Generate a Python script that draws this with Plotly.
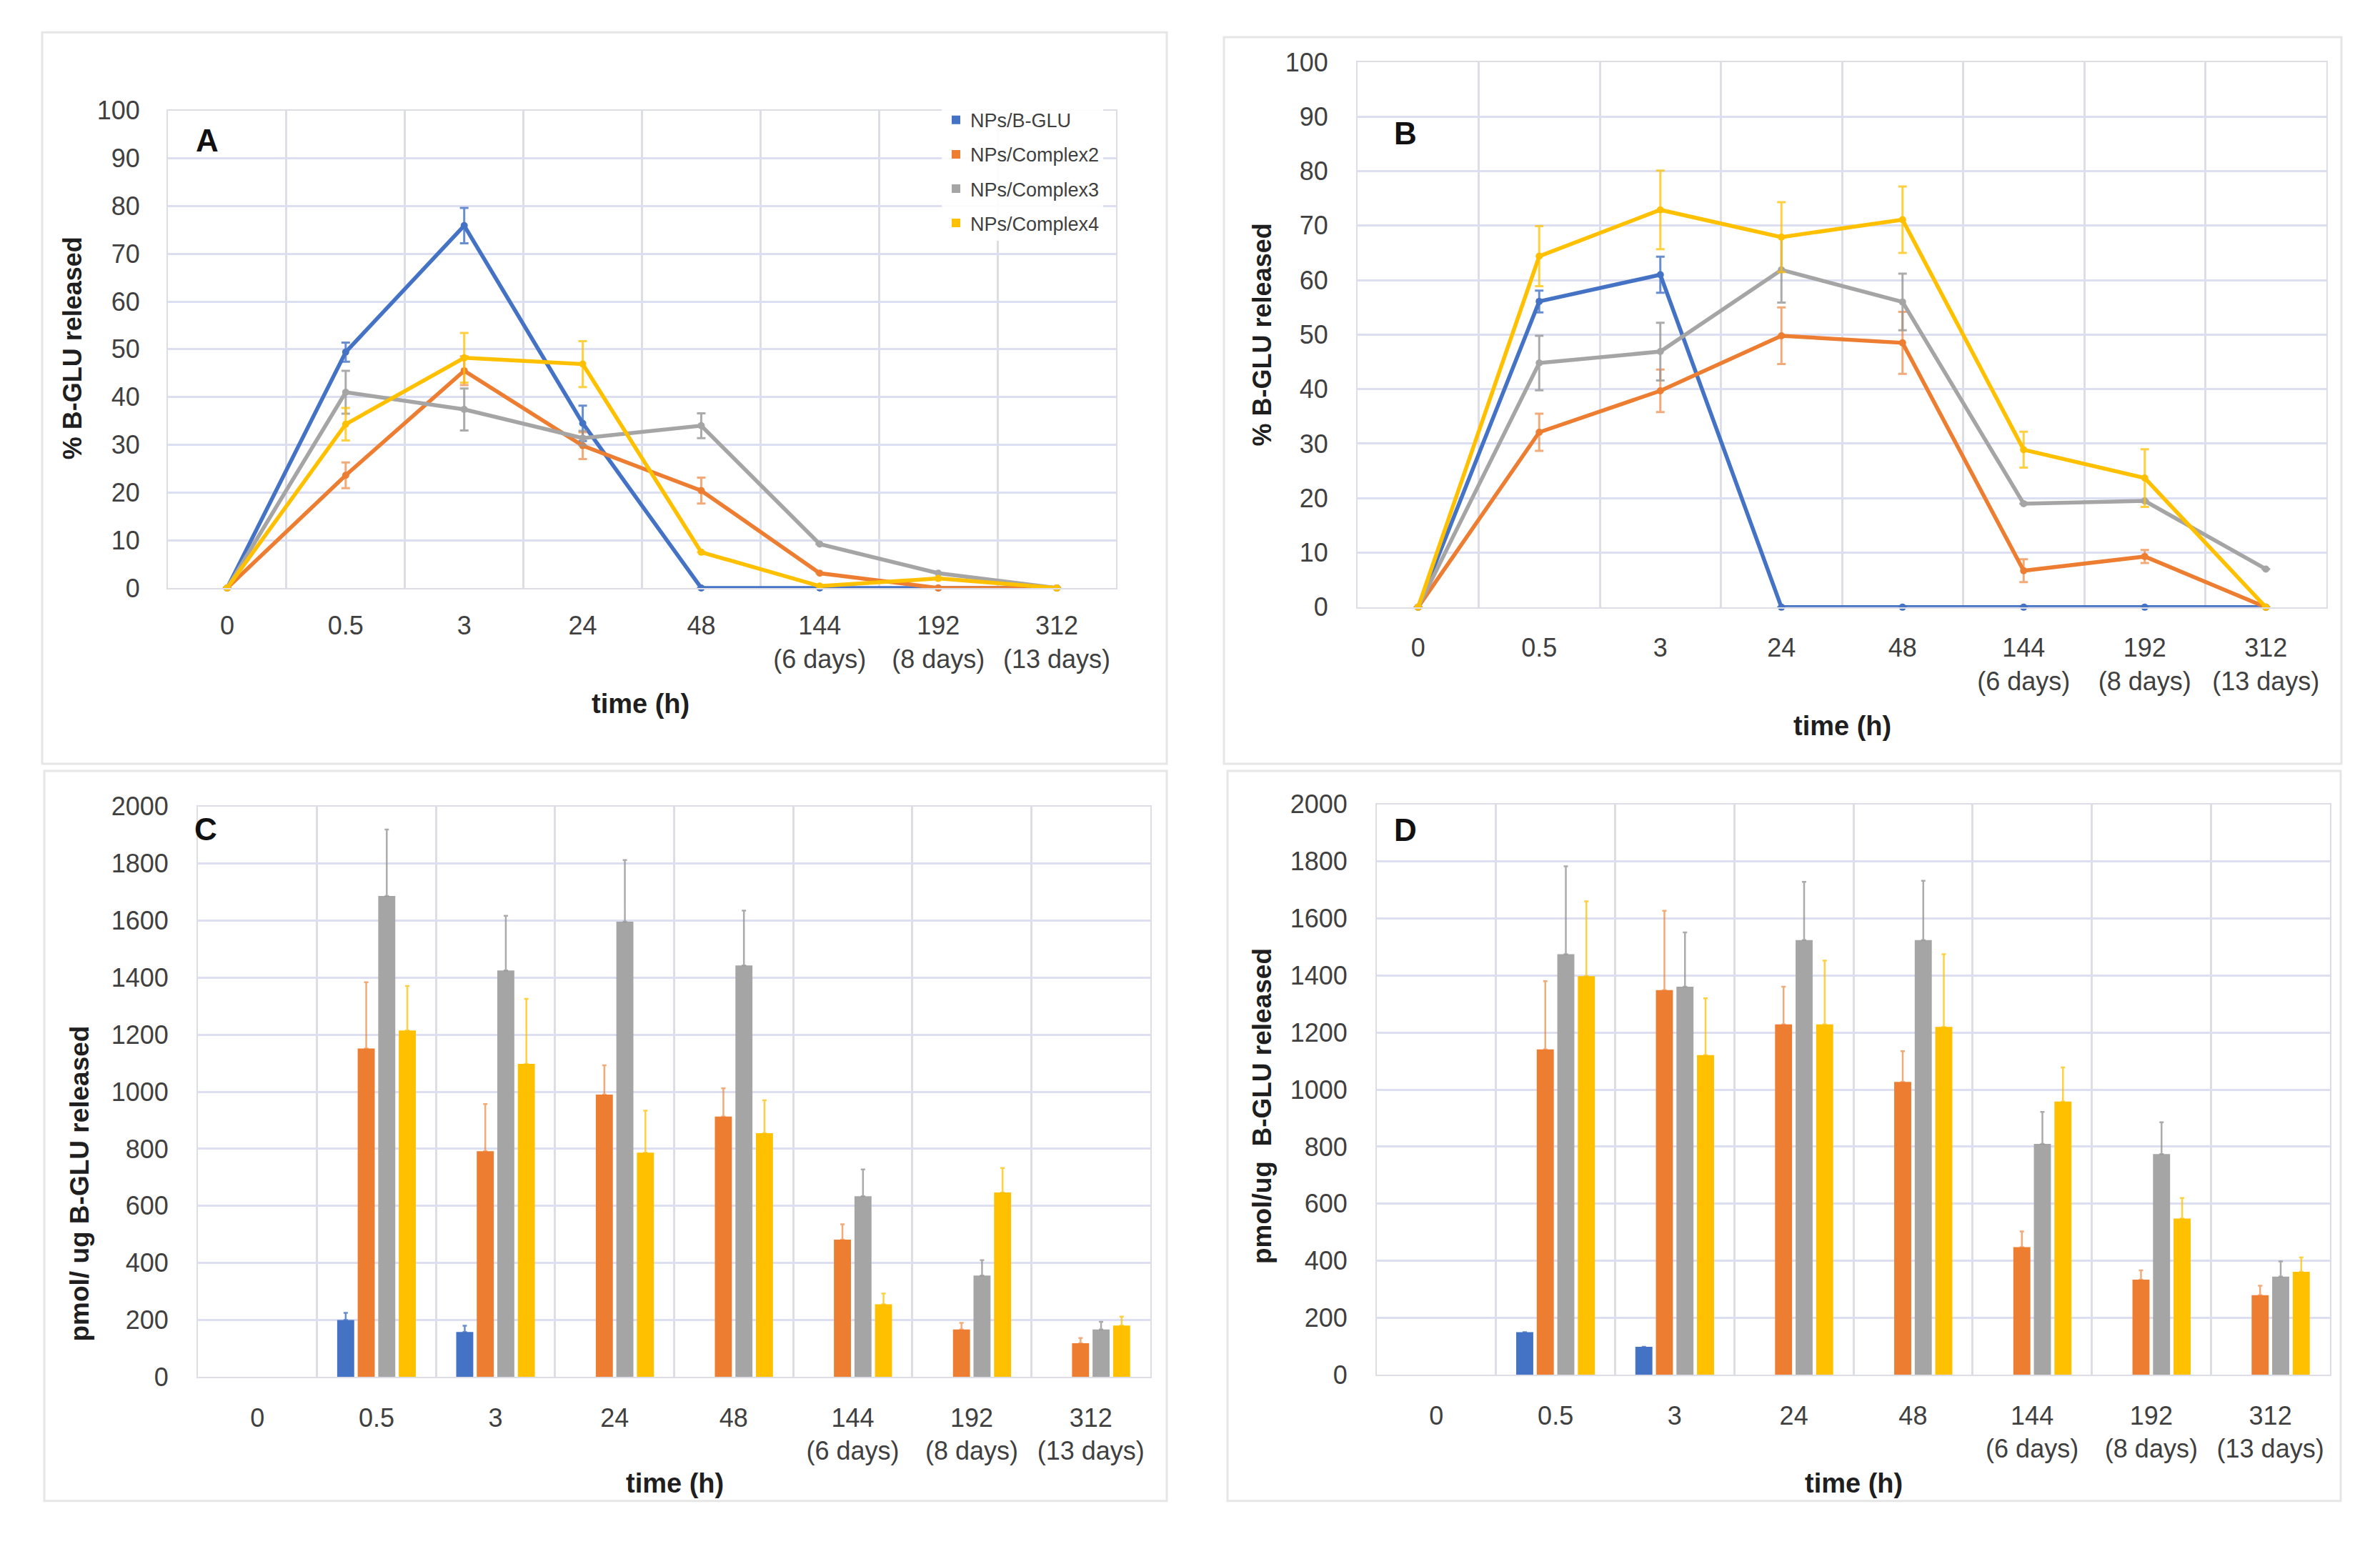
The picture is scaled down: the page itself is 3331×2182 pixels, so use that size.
import plotly.graph_objects as go

# ---------------- data ----------------
categories = ["0", "0.5", "3", "24", "48", "144", "192", "312"]
tick_labels = ["0", "0.5", "3", "24", "48", "144<br>(6 days)", "192<br>(8 days)", "312<br>(13 days)"]
series_names = ["NPs/B-GLU", "NPs/Complex2", "NPs/Complex3", "NPs/Complex4"]
colors = ["#4472C4", "#ED7D31", "#A5A5A5", "#FFC000"]
err_colors = ["rgba(68,114,196,0.8)", "rgba(237,125,49,0.65)", "rgba(150,150,150,0.8)", "rgba(255,192,0,0.75)"]

a_bglu = [0, 49.4, 75.9, 34.5, 0, 0, 0, 0]
a_bglu_err = [None, 2.0, 3.7, 3.7, None, None, None, None]
a_c2 = [0, 23.6, 45.5, 29.8, 20.4, 3.1, 0, 0]
a_c2_err = [None, 2.7, 3.0, 2.8, 2.7, None, None, None]
a_c3 = [0, 41.0, 37.4, 31.4, 34.0, 9.2, 3.1, 0]
a_c3_err = [None, 4.5, 4.4, 1.5, 2.6, None, None, None]
a_c4 = [0, 34.3, 48.2, 46.9, 7.5, 0.4, 2.0, 0]
a_c4_err = [None, 3.4, 5.2, 4.8, None, None, None, None]

b_bglu = [0, 56.1, 61.0, 0, 0, 0, 0, 0]
b_bglu_err = [None, 2.0, 3.3, None, None, None, None, None]
b_c2 = [0, 32.1, 39.7, 49.8, 48.5, 6.7, 9.3, 0]
b_c2_err = [None, 3.4, 3.9, 5.2, 5.7, 2.1, 1.2, None]
b_c3 = [0, 44.8, 46.9, 61.9, 56.0, 19.0, 19.5, 7.0]
b_c3_err = [None, 5.0, 5.3, 6.0, 5.2, None, None, None]
b_c4 = [0, 64.4, 72.9, 67.9, 71.1, 28.9, 23.7, 0]
b_c4_err = [None, 5.5, 7.2, 6.4, 6.1, 3.3, 5.3, None]

c_bglu = [0, 200, 158, 0, 0, 0, 0, 0]
c_bglu_err = [None, 25, 22, None, None, None, None, None]
c_c2 = [0, 1152, 792, 990, 913, 482, 167, 119]
c_c2_err = [None, 232, 165, 103, 99, 54, 23, 18]
c_c3 = [0, 1686, 1425, 1596, 1443, 634, 356, 167]
c_c3_err = [None, 233, 192, 216, 192, 94, 54, 27]
c_c4 = [0, 1215, 1098, 787, 855, 255, 647, 181]
c_c4_err = [None, 156, 228, 147, 115, 38, 86, 31]

d_bglu = [0, 150, 99, 0, 0, 0, 0, 0]
d_bglu_err = [None, None, None, None, None, None, None, None]
d_c2 = [0, 1141, 1349, 1229, 1027, 448, 334, 280]
d_c2_err = [None, 239, 278, 132, 108, 55, 33, 33]
d_c3 = [0, 1475, 1361, 1524, 1524, 810, 774, 345]
d_c3_err = [None, 308, 190, 204, 208, 112, 112, 53]
d_c4 = [0, 1398, 1121, 1229, 1220, 958, 548, 362]
d_c4_err = [None, 262, 199, 223, 255, 120, 72, 50]

# ---------------- figure ----------------
W, H = 3331, 2182


def PX(px):
    return (px - 8) / W


def PY(py):
    return 1 - (1.015 * py - 28.2) / H


x_pos = list(range(len(categories)))
FONT = "Liberation Sans, Arial, sans-serif"
TICK_COLOR = "#404040"
TITLE_COLOR = "#1F1F1F"
HGRID = "#DCDEF2"
VGRID = "#DDDDE6"

fig = go.Figure()

line_sets = [
    ("x", "y", [(a_bglu, a_bglu_err), (a_c2, a_c2_err), (a_c3, a_c3_err), (a_c4, a_c4_err)]),
    ("x2", "y2", [(b_bglu, b_bglu_err), (b_c2, b_c2_err), (b_c3, b_c3_err), (b_c4, b_c4_err)]),
]
for xa, ya, sets in line_sets:
    for i, (vals, errs) in enumerate(sets):
        fig.add_trace(go.Scatter(
            x=x_pos, y=vals, xaxis=xa, yaxis=ya, mode="lines+markers",
            name=series_names[i], showlegend=False, cliponaxis=False,
            line=dict(color=colors[i], width=5.5),
            marker=dict(color=colors[i], size=10, symbol="circle"),
            error_y=dict(type="data", array=errs, visible=True,
                         color=err_colors[i], thickness=3, width=6),
        ))

bar_sets = [
    ("x3", "y3", [(c_bglu, c_bglu_err), (c_c2, c_c2_err), (c_c3, c_c3_err), (c_c4, c_c4_err)]),
    ("x4", "y4", [(d_bglu, d_bglu_err), (d_c2, d_c2_err), (d_c3, d_c3_err), (d_c4, d_c4_err)]),
]
for xa, ya, sets in bar_sets:
    for i, (vals, errs) in enumerate(sets):
        fig.add_trace(go.Bar(
            x=x_pos, y=[v if v != 0 else None for v in vals], xaxis=xa, yaxis=ya,
            name=series_names[i],
            showlegend=False, marker=dict(color=colors[i], line=dict(width=0)),
            error_y=dict(type="data", symmetric=False, array=errs,
                         arrayminus=[None if e is None else 0 for e in errs], visible=True,
                         color=err_colors[i], thickness=2.5, width=3),
        ))

for i, nm in enumerate(series_names):
    fig.add_trace(go.Scatter(
        x=[None], y=[None], xaxis="x", yaxis="y", mode="markers", name=nm,
        legendgroup=nm, showlegend=True,
        marker=dict(color=colors[i], size=17, symbol="square"),
    ))


def xaxis(domain, anchor, standoff):
    return dict(
        domain=domain, anchor=anchor, range=[-0.5, len(categories) - 0.5],
        tickmode="array", tickvals=x_pos, ticktext=tick_labels,
        showgrid=False, zeroline=False, ticks="",
        showline=True, linecolor=VGRID, linewidth=2, mirror=True,
        ticklabelstandoff=standoff,
        tickfont=dict(family=FONT, size=36, color=TICK_COLOR),
        minor=dict(tickvals=[v + 0.5 for v in x_pos[:-1]], showgrid=True,
                   gridcolor=VGRID, gridwidth=3, ticks=""),
        fixedrange=True,
    )


def yaxis(domain, anchor, rng, dtick, standoff):
    return dict(
        domain=domain, anchor=anchor, range=rng, dtick=dtick,
        showgrid=True, gridcolor=HGRID, gridwidth=3, zeroline=False,
        showline=True, linecolor=VGRID, linewidth=2, mirror=True,
        ticks="", ticklabelstandoff=standoff,
        tickfont=dict(family=FONT, size=36, color=TICK_COLOR),
        fixedrange=True,
    )


fig.update_layout(
    width=W, height=H, margin=dict(l=0, r=0, t=0, b=0),
    paper_bgcolor="white", plot_bgcolor="white",
    barmode="group", bargap=0.31, bargroupgap=0.17,
    xaxis=xaxis([PX(235), PX(1562)], "y", 20),
    yaxis=yaxis([PY(826), PY(155)], "x", [0, 100], 10, 30),
    xaxis2=xaxis([PX(1900), PX(3256)], "y2", 24),
    yaxis2=yaxis([PY(853), PY(87)], "x2", [0, 100], 10, 32),
    xaxis3=xaxis([PX(277), PX(1610)], "y3", 24),
    yaxis3=yaxis([PY(1935), PY(1133)], "x3", [0, 2000], 200, 32),
    xaxis4=xaxis([PX(1927), PX(3261)], "y4", 24),
    yaxis4=yaxis([PY(1932), PY(1130)], "x4", [0, 2000], 200, 32),
    legend=dict(x=PX(1318), y=PY(144), xanchor="left", yanchor="top",
                bgcolor="rgba(255,255,255,0.9)", borderwidth=0,
                font=dict(family=FONT, size=27, color="#404040"),
                tracegroupgap=10, traceorder="grouped", itemsizing="constant"),
)

frames = [(59, 45, 1633, 1073), (1713, 52, 3277, 1073), (62, 1083, 1633, 2109), (1718, 1083, 3276, 2109)]
for x0, y0, x1, y1 in frames:
    fig.add_shape(type="rect", xref="paper", yref="paper",
                  x0=PX(x0), x1=PX(x1), y0=PY(y1), y1=PY(y0),
                  line=dict(color="#E6E6E6", width=3), layer="below")

letters = [("A", 290, 197), ("B", 1967, 187), ("C", 288, 1165), ("D", 1967, 1166)]
for t, px, py in letters:
    fig.add_annotation(text="<b>%s</b>" % t, x=PX(px), y=PY(py), xref="paper", yref="paper",
                       xanchor="center", yanchor="middle",
                       showarrow=False, font=dict(family=FONT, size=44, color="#111111"))

x_titles = [(896, 989), (2578, 1020), (944, 2084), (2594, 2084)]
for px, py in x_titles:
    fig.add_annotation(text="<b>time (h)</b>", x=PX(px), y=PY(py), xref="paper", yref="paper",
                       xanchor="center", yanchor="middle",
                       showarrow=False, font=dict(family=FONT, size=38, color=TITLE_COLOR))

y_titles = [("% B-GLU released", 101, 489, 36), ("% B-GLU released", 1766, 470, 36),
            ("pmol/ ug B-GLU released", 112, 1663, 37), ("pmol/ug  B-GLU released", 1766, 1554, 37)]
for t, px, py, fs in y_titles:
    fig.add_annotation(text="<b>%s</b>" % t.replace("  ", "&nbsp; "), x=PX(px), y=PY(py),
                       xref="paper", yref="paper", textangle=-90,
                       xanchor="center", yanchor="middle",
                       showarrow=False, font=dict(family=FONT, size=fs, color=TITLE_COLOR))

fig.write_html("out.html")
